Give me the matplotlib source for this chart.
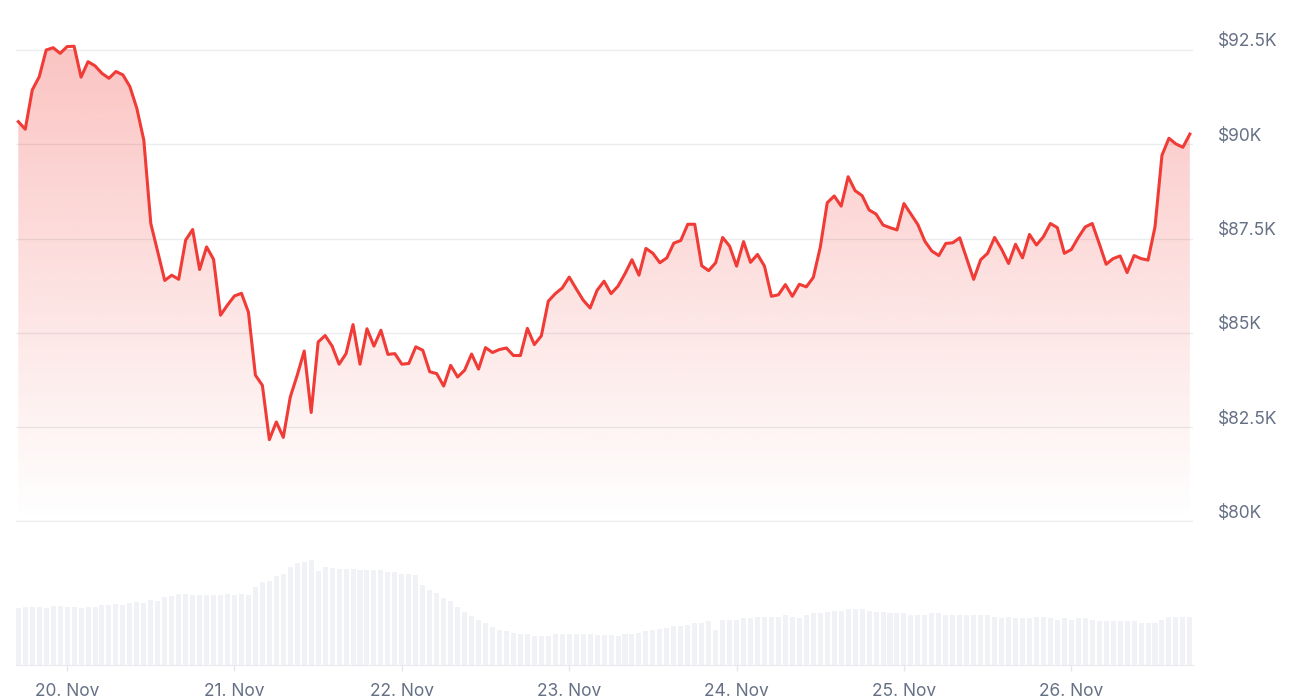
import numpy as np
import pandas as pd
import matplotlib
matplotlib.use("Agg")
import matplotlib.pyplot as plt
import matplotlib.dates as mdates
import matplotlib.transforms as mtransforms
from matplotlib.colors import to_rgb

# hourly BTC price (USD), 19 Nov 17:00 -> 26 Nov 17:00
start = "2024-11-19 17:00"
price = [
    90600, 90400, 91440, 91790, 92500, 92560, 92410, 92590, 92600, 91780, 92190, 92080,
    91880, 91750, 91930, 91840, 91530, 90950, 90110, 87900, 87150, 86390, 86530, 86420,
    87460, 87740, 86680, 87280, 86950, 85470, 85740, 85980, 86050, 85550, 83880, 83610,
    82170, 82640, 82230, 83300, 83880, 84520, 82890, 84760, 84930, 84650, 84170, 84450,
    85220, 84170, 85110, 84650, 85070, 84430, 84450, 84170, 84190, 84630, 84540, 83970,
    83920, 83590, 84140, 83830, 84010, 84440, 84040, 84610, 84480, 84560, 84600, 84400,
    84400, 85120, 84690, 84920, 85840, 86040, 86190, 86480, 86170, 85870, 85660, 86130,
    86370, 86040, 86240, 86570, 86940, 86530, 87240, 87110, 86860, 86990, 87380, 87450,
    87880, 87880, 86780, 86650, 86860, 87530, 87300, 86770, 87420, 86870, 87080, 86770,
    85970, 86010, 86280, 85970, 86290, 86220, 86470, 87270, 88450, 88630, 88360, 89140,
    88770, 88640, 88260, 88150, 87860, 87790, 87730, 88430, 88150, 87870, 87430, 87170,
    87050, 87370, 87390, 87520, 86970, 86420, 86940, 87110, 87530, 87220, 86840, 87350,
    86990, 87610, 87330, 87550, 87900, 87790, 87110, 87210, 87530, 87810, 87900, 87370,
    86820, 86970, 87040, 86600, 87050, 86970, 86930, 87810, 89710, 90160, 90010, 89920,
    90270,
]

# 24h volume (relative units), same hours
volume = [
    57, 58, 58, 58, 57, 59, 59, 58, 58, 57, 58, 58,
    60, 60, 61, 60, 62, 63, 62, 65, 64, 68, 69,
    71, 71, 70, 70, 70, 70, 70, 71, 70, 71, 70,
    78, 83, 84, 89, 91, 98, 102, 103, 105, 94, 98, 97,
    96, 96, 96, 95, 95, 95, 95, 93, 93, 91, 91, 90,
    80, 75, 72, 67, 64, 58, 53, 49, 45, 42, 38, 35,
    34, 32, 31, 31, 29, 29, 29, 31, 31, 31, 31, 31,
    31, 30, 30, 30, 29, 31, 31, 32, 34, 35, 36, 37,
    39, 39, 40, 42, 42, 44, 35, 45, 45, 45, 47, 47,
    48, 48, 48, 48, 50, 48, 47, 50, 52, 52, 53, 54,
    54, 56, 56, 56, 54, 53, 53, 52, 52, 52, 50, 50,
    50, 52, 52, 50, 50, 50, 50, 50, 50, 50, 48, 47,
    48, 47, 47, 47, 48, 48, 47, 45, 47, 45, 47, 47,
    45, 44, 44, 44, 44, 44, 44, 42, 42, 42, 45, 48,
    48, 48, 48,
]

y_ticks = [80000, 82500, 85000, 87500, 90000, 92500]
y_labels = ["$80K", "$82.5K", "$85K", "$87.5K", "$90K", "$92.5K"]
x_ticks = ["2024-11-20", "2024-11-21", "2024-11-22", "2024-11-23",
           "2024-11-24", "2024-11-25", "2024-11-26"]
x_labels = ["20. Nov", "21. Nov", "22. Nov", "23. Nov", "24. Nov", "25. Nov", "26. Nov"]

plt.rcParams["font.family"] = ["Inter", "DejaVu Sans"]

RED = "#f03b36"
GRID = "#eaecef"
TXT = "#667085"

W, H = 1300, 700
fig = plt.figure(figsize=(W / 100, H / 100), dpi=100)


def px_axes(left, top, right, bottom):
    return fig.add_axes([left / W, 1 - bottom / H, (right - left) / W, (bottom - top) / H])


times = pd.date_range(start, periods=len(price), freq="h")
x = mdates.date2num(times)
hour = 1 / 24
xmin, xmax = x[0] - 0.33 * hour, x[-1] + 0.45 * hour

# price panel
ax = px_axes(16, 30, 1193, 521.5)
ymin, ymax = 80000, 93030

grad = np.zeros((256, 1, 4))
grad[:, 0, :3] = to_rgb(RED)
grad[:, 0, 3] = np.linspace(0.0, 0.3, 256)
poly = ax.fill_between(x, price, ymin, facecolor="none", edgecolor="none")
im = ax.imshow(grad, extent=[xmin, xmax, ymin, 92500], origin="lower",
               aspect="auto", zorder=1)
im.set_clip_path(poly.get_paths()[0], transform=ax.transData)

ax.plot(x, price, color=RED, lw=2.2, zorder=3, solid_joinstyle="round")

ax.set_xlim(xmin, xmax)
ax.set_ylim(ymin, ymax)
ax.set_yticks(y_ticks)
ax.set_yticklabels(y_labels)
ax.yaxis.tick_right()
ax.tick_params(axis="y", length=0, pad=18, labelsize=12.5, labelcolor=TXT)
# labels sit a little above their grid lines
lift = mtransforms.ScaledTranslation(0, 0.1, fig.dpi_scale_trans)
for lbl in ax.get_yticklabels():
    lbl.set_transform(lbl.get_transform() + lift)
ax.set_xticks([])
ax.grid(axis="y", color=GRID, lw=1, zorder=0)
ax.set_axisbelow(True)
for s in ax.spines.values():
    s.set_visible(False)

# volume panel
ax2 = px_axes(16, 525, 1193, 665)
ax2.bar(x, volume, width=0.72 * hour, color="#f0f2f5", align="center")
ax2.set_xlim(xmin, xmax)
ax2.set_ylim(0, 140)
ax2.set_yticks([])
ax2.set_xticks(mdates.date2num(pd.to_datetime(x_ticks)))
ax2.set_xticklabels(x_labels)
ax2.tick_params(axis="x", length=4, width=1, color="#e3e6ea", pad=9,
                labelsize=12.5, labelcolor=TXT)
for name, s in ax2.spines.items():
    s.set_visible(name == "bottom")
ax2.spines["bottom"].set_color("#e8eaee")

fig.savefig("out.png", dpi=100, facecolor="white")
